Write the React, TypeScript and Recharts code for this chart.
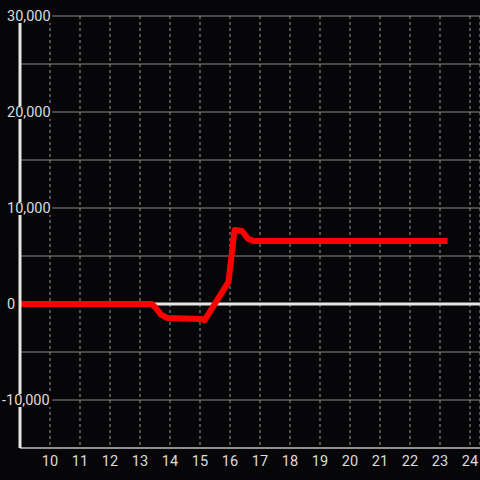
import React from "react";
import { LineChart, Line, XAxis, YAxis, CartesianGrid, ReferenceLine } from "recharts";

const xValues = [9, 13.4, 13.55, 13.7, 13.9, 15.05, 15.15, 15.95, 16.15, 16.4, 16.6, 16.8, 23.15];
const yValues = [0, 0, -500, -1100, -1450, -1550, -1700, 2300, 7700, 7600, 6800, 6550, 6550];
const xTicks = [10, 11, 12, 13, 14, 15, 16, 17, 18, 19, 20, 21, 22, 23, 24];
const yTicks = [-15000, -10000, -5000, 0, 5000, 10000, 15000, 20000, 25000, 30000];

const data = xValues.map((x, i) => ({ x, y: yValues[i] }));

const FONT = "Roboto, 'Liberation Sans', sans-serif";
const FS = 14.5;

const textWidth = (s: string) => {
  let w = 0;
  for (const c of s) {
    if (c === ",") w += 3.2;
    else if (c === "-") w += 5;
    else w += 8.2;
  }
  return w;
};

const YTick = (props: any) => {
  const { y, payload } = props;
  const v = payload.value as number;
  if (v % 10000 !== 0 || v === -15000) return <g />;
  const label = v.toLocaleString("en-US");
  const sx = v < 0 ? 2 : 7;
  const w = textWidth(label);
  return (
    <g>
      <rect x={sx - 1} y={y - 6} width={w + 2} height={13} fill="#060608" />
      <text x={sx} y={y} dy={5} textAnchor="start" fill="#dcdcdc" fontSize={FS} fontFamily={FONT}>
        {label}
      </text>
    </g>
  );
};

export default function App() {
  return (
    <div style={{ position: "absolute", left: 0, top: 0, width: 480, height: 480, background: "#060608" }}>
      <LineChart width={480} height={480} data={data} margin={{ top: 16, right: 0, bottom: 0, left: 0 }}>
        <CartesianGrid horizontal={true} vertical={false} stroke="#8a8a8a" strokeWidth={1} />
        <CartesianGrid horizontal={false} vertical={true} stroke="#9a9a9a" strokeDasharray="3 3" strokeWidth={1} />
        <ReferenceLine y={0} stroke="#e6e6e6" strokeWidth={3} />
        <XAxis
          type="number"
          dataKey="x"
          domain={[9, 24.3333]}
          ticks={xTicks}
          allowDataOverflow
          height={32}
          axisLine={{ stroke: "#a8a8a8", strokeWidth: 1.5 }}
          tickLine={false}
          tick={{ fill: "#dcdcdc", fontSize: FS, fontFamily: FONT }}
          tickMargin={2}
        />
        <YAxis
          type="number"
          domain={[-15000, 30000]}
          ticks={yTicks}
          allowDataOverflow
          width={20}
          axisLine={{ stroke: "#e6e6e6", strokeWidth: 3 }}
          tickLine={false}
          tick={<YTick />}
          interval={0}
        />
        <Line
          type="linear"
          dataKey="y"
          stroke="#ff0000"
          strokeWidth={6}
          strokeLinecap="square"
          strokeLinejoin="round"
          dot={false}
          isAnimationActive={false}
        />
      </LineChart>
    </div>
  );
}
